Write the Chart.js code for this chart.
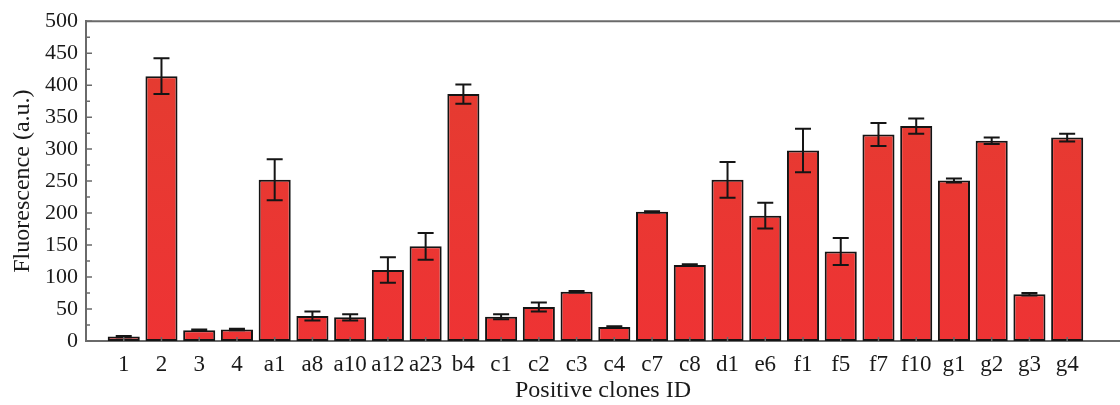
<!DOCTYPE html>
<html>
<head>
<meta charset="utf-8">
<script src="https://cdn.jsdelivr.net/npm/chart.js@4/dist/chart.umd.min.js"></script>
<style>
  html, body { margin: 0; padding: 0; background: #fff; }
  #wrap { width: 1120px; height: 405px; }
</style>
</head>
<body>
<div id="wrap"><canvas id="myChart"></canvas></div>
<script>
const clones = ["1", "2", "3", "4", "a1", "a8", "a10", "a12", "a23", "b4", "c1", "c2", "c3", "c4",
    "c7", "c8", "d1", "e6", "f1", "f5", "f7", "f10", "g1", "g2", "g3", "g4"]
const fluorescence = [7, 414, 17, 18, 252, 39, 37, 111, 148, 386, 38, 53, 77, 22,
    202, 119, 252, 196, 298, 140, 323, 336, 251, 313, 73, 318]
const errors = [1, 28, 1, 1, 32, 7, 5, 20, 21, 15, 4, 7, 1, 1,
    1, 1, 28, 20, 34, 21, 18, 12, 3, 5, 2, 6]
const yTicks = [0, 50, 100, 150, 200, 250, 300, 350, 400, 450, 500]

const serif = "'Liberation Serif', 'DejaVu Serif', serif"
const axisGrey = '#6a6a6a'

// error bars + inward tick marks, drawn off the chart's own scales
const extras = {
    id: 'extras',
    afterDatasetsDraw(chart) {
        const {ctx, chartArea, scales: {x, y}} = chart
        ctx.save()
        ctx.strokeStyle = '#151515'
        ctx.lineWidth = 2
        fluorescence.forEach((v, i) => {
            const px = x.getPixelForValue(i)
            const top = y.getPixelForValue(v + errors[i])
            const bot = y.getPixelForValue(v - errors[i])
            ctx.beginPath()
            ctx.moveTo(px, top); ctx.lineTo(px, bot)
            ctx.moveTo(px - 8, top); ctx.lineTo(px + 8, top)
            ctx.moveTo(px - 8, bot); ctx.lineTo(px + 8, bot)
            ctx.stroke()
        })
        ctx.restore()

        ctx.save()
        ctx.strokeStyle = axisGrey
        ctx.lineWidth = 1.5
        ctx.beginPath()
        for (let v = 0; v <= 500; v += 25) {
            const py = y.getPixelForValue(v)
            const len = v % 50 === 0 ? 6 : 4
            ctx.moveTo(chartArea.left, py); ctx.lineTo(chartArea.left + len, py)
        }
        clones.forEach((c, i) => {
            const px = x.getPixelForValue(i)
            ctx.moveTo(px, chartArea.bottom); ctx.lineTo(px, chartArea.bottom - 4)
        })
        ctx.stroke()
        // top frame line
        ctx.lineWidth = 2
        ctx.beginPath()
        ctx.moveTo(chartArea.left, chartArea.top)
        ctx.lineTo(chartArea.right, chartArea.top)
        ctx.stroke()
        ctx.restore()
    }
}

const chartElement = document.querySelector('#myChart')

new Chart(chartElement, {
    type: 'bar',
    data: {
        datasets: [{
            label: 'Fluorescence',
            data: fluorescence.map((v, i) => ({x: i, y: v})),
            borderColor: '#141414',
            borderWidth: 2,
            borderSkipped: false,
            barPercentage: 0.85,
            categoryPercentage: 1,
            backgroundColor: (context) => {
                const {ctx, chartArea} = context.chart
                if (!chartArea) return '#ea3535'
                const g = ctx.createLinearGradient(0, chartArea.bottom, 0, chartArea.top)
                g.addColorStop(0, '#ee3334')
                g.addColorStop(1, '#e33d30')
                return g
            },
        }]
    },
    options: {
        responsive: true,
        maintainAspectRatio: false,
        animation: false,
        layout: {padding: {top: 21, right: 0, left: 0, bottom: 0}},
        plugins: {legend: {display: false}, tooltip: {enabled: false}},
        scales: {
            x: {
                type: 'linear',
                offset: false,
                min: -1,
                max: 26.4,
                afterFit: (scale) => { scale.height = 64 },
                afterBuildTicks: (scale) => {
                    scale.ticks = clones.map((c, i) => ({value: i}))
                },
                ticks: {
                    autoSkip: false,
                    maxRotation: 0,
                    padding: 10,
                    color: '#1a1a1a',
                    font: {family: serif, size: 23},
                    callback: (value) => clones[value] ?? '',
                },
                grid: {display: false, drawTicks: false},
                border: {display: true, color: axisGrey, width: 2},
                title: {
                    display: true,
                    text: 'Positive clones ID',
                    color: '#1a1a1a',
                    font: {family: serif, size: 24},
                    padding: {top: 0, bottom: 0},
                },
            },
            y: {
                type: 'linear',
                min: 0,
                max: 500,
                afterFit: (scale) => { scale.width = 86 },
                afterBuildTicks: (scale) => {
                    scale.ticks = yTicks.map(v => ({value: v}))
                },
                ticks: {
                    padding: 8,
                    color: '#1a1a1a',
                    font: {family: serif, size: 22},
                },
                grid: {display: false, drawTicks: false},
                border: {display: true, color: axisGrey, width: 2},
                title: {
                    display: true,
                    text: 'Fluorescence (a.u.)',
                    color: '#1a1a1a',
                    font: {family: serif, size: 24},
                    padding: {top: 8, bottom: 0},
                },
            }
        }
    },
    plugins: [extras]
});
</script>
</body>
</html>
